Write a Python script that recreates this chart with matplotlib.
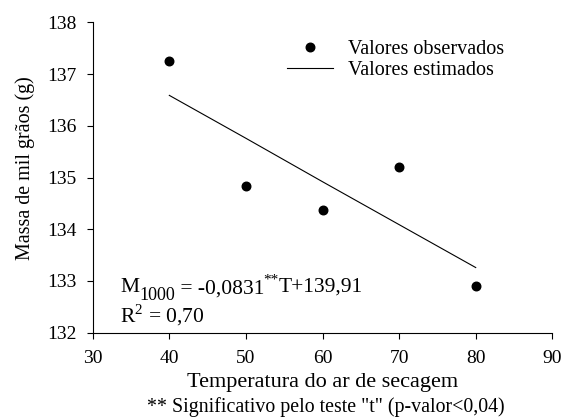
import matplotlib
matplotlib.use('Agg')
import matplotlib.pyplot as plt

# data
temperatura = [40, 50, 60, 70, 80]
massa_obs = [137.26, 134.84, 134.37, 135.21, 132.91]
massa_est = [136.59, 135.76, 134.92, 134.09, 133.26]   # M1000 = -0.0831 T + 139.91

plt.rcParams['font.family'] = 'Liberation Serif'
plt.rcParams['mathtext.fontset'] = 'custom'
plt.rcParams['mathtext.rm'] = 'Liberation Serif'

fig = plt.figure(figsize=(5.63, 4.17), dpi=100)
ax = fig.add_axes([0.1647, 0.2022, 0.8163, 0.7439])

ax.scatter(temperatura, massa_obs, s=38, c='black', zorder=3,
           label='Valores observados')
ax.plot(temperatura, massa_est, color='black', lw=0.8,
        label='Valores estimados')

ax.set_xlim(30, 90)
ax.set_ylim(132, 138)
ax.set_xticks(range(30, 91, 10))
ax.set_yticks(range(132, 139))
ax.tick_params(direction='out', labelsize=14, length=4, width=0.8)
ax.tick_params(axis='x', pad=8.5)
ax.tick_params(axis='y', pad=7.5)
for side in ['top', 'right']:
    ax.spines[side].set_visible(False)
for side in ['left', 'bottom']:
    ax.spines[side].set_linewidth(0.8)

ax.set_xlabel('Temperatura do ar de secagem', fontsize=16)
ax.xaxis.label.set_va('baseline')
ax.xaxis.set_label_coords(0.5, -0.176)
ax.set_ylabel('Massa de mil grãos (g)', fontsize=14.4)
ax.yaxis.set_label_coords(-0.1255, 0.53)

ax.legend(loc='upper left', bbox_to_anchor=(0.422, 0.943), frameon=False,
          fontsize=14.5, scatterpoints=1, scatteryoffsets=[0.5],
          handlelength=2.32, handletextpad=0.73,
          labelspacing=0.1, borderpad=0.0, borderaxespad=0.0)

# regression equation, built piece by piece (large subscript)
fs = 15.5
t_m = ax.text(0.0594, 0.130, 'M', transform=ax.transAxes,
              fontsize=fs, va='baseline')
t_sub = ax.annotate('1000', xy=(1, 0), xycoords=t_m, xytext=(0.3, -4.6),
                    textcoords='offset points', fontsize=fs - 2.5, va='bottom')
t_coef = ax.annotate(' = -0,0831', xy=(1, 0), xycoords=t_sub,
                     xytext=(-0.3, 3.8), textcoords='offset points',
                     fontsize=fs, va='bottom')
t_sig = ax.annotate('**', xy=(1, 0), xycoords=t_coef, xytext=(-0.8, 8.5),
                    textcoords='offset points', fontsize=11, va='bottom')
ax.annotate('T+139,91', xy=(1, 0), xycoords=t_sig, xytext=(0, -7.3),
            textcoords='offset points', fontsize=fs, va='bottom')

ax.text(0.0594, 0.034, r'R$^2$ = 0,70', transform=ax.transAxes,
        fontsize=fs, va='baseline')

fig.text(0.578, 0.012, '** Significativo pelo teste "t" (p-valor<0,04)',
         ha='center', va='baseline', fontsize=14.3)

fig.savefig('out.png', dpi=100)
